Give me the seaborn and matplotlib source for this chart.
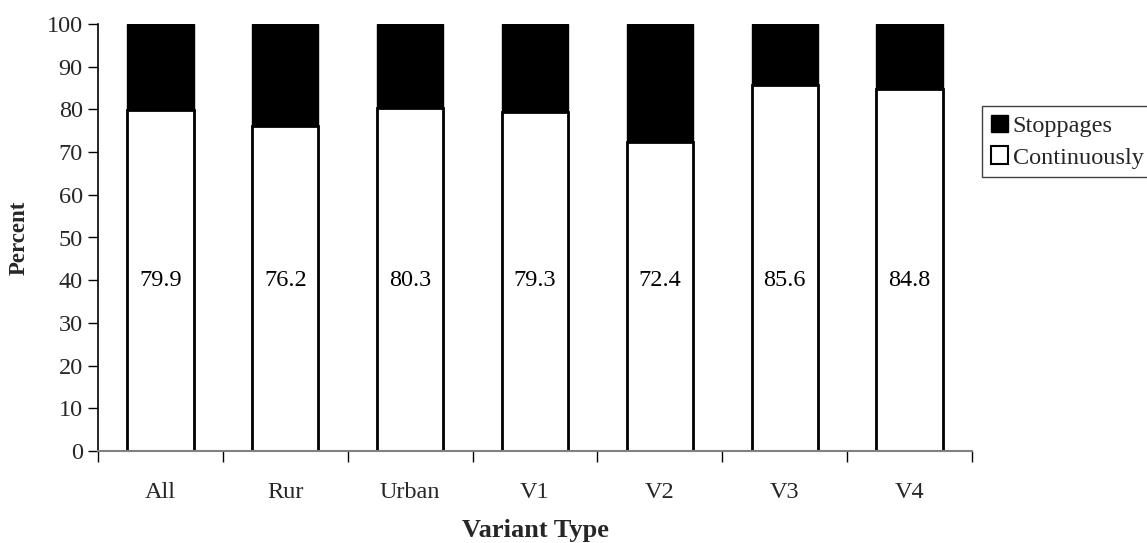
import matplotlib
matplotlib.use("Agg")
import matplotlib.pyplot as plt
import seaborn as sns
import numpy as np
from matplotlib.patches import Patch
from matplotlib.ticker import FixedLocator

categories = ["All", "Rur", "Urban", "V1", "V2", "V3", "V4"]
continuously = [79.9, 76.2, 80.3, 79.3, 72.4, 85.6, 84.8]
stoppages = [round(100 - v, 1) for v in continuously]
totals = [c + s for c, s in zip(continuously, stoppages)]
y_ticks = list(range(0, 101, 10))

sns.set_theme(style="white")
plt.rcParams['font.family'] = ['Liberation Serif', 'DejaVu Serif']

fig = plt.figure(figsize=(11.47, 5.43), dpi=100)
ax = fig.add_axes([98/1147, 1-451/543, (972-98)/1147, (451-24)/543])

sns.barplot(x=categories, y=totals, color="black", saturation=1, width=0.53,
            edgecolor="black", linewidth=1, ax=ax)
sns.barplot(x=categories, y=continuously, color="white", saturation=1, width=0.53,
            edgecolor="black", linewidth=2, ax=ax)

for i, v in enumerate(continuously):
    ax.text(i, 40, f"{v:.1f}", ha="center", va="center", fontsize=17.5, color="black")

ax.set_xlim(-0.5, len(categories) - 0.5)
ax.set_ylim(0, 100)
ax.set_yticks(y_ticks)
ax.tick_params(axis="y", which="major", direction="out", length=7, width=1,
               color="black", labelsize=17.5, pad=4, left=True)
ax.xaxis.set_minor_locator(FixedLocator(np.arange(-0.5, len(categories), 1.0)))
ax.tick_params(axis="x", which="major", length=0, labelsize=17.5, pad=22)
ax.tick_params(axis="x", which="minor", direction="out", length=8, width=1,
               color="black", bottom=True)

for s in ["top", "right"]:
    ax.spines[s].set_visible(False)
ax.spines["left"].set_color("black")
ax.spines["left"].set_linewidth(1.2)
ax.spines["bottom"].set_color("#808080")
ax.spines["bottom"].set_linewidth(1.5)

ax.set_ylabel("Percent", fontsize=16.5, fontweight="bold", labelpad=12)
ax.set_xlabel("Variant Type", fontsize=19, fontweight="bold", labelpad=12)
ax.grid(False)

handles = [Patch(facecolor="black", edgecolor="black", label="Stoppages"),
           Patch(facecolor="white", edgecolor="black", linewidth=1.5, label="Continuously")]
leg = fig.legend(handles=handles, loc="upper left", bbox_to_anchor=(982/1147, 1-106/543),
                 fontsize=17.5, frameon=True, fancybox=False, framealpha=1,
                 edgecolor="#404040", handlelength=0.72, handleheight=0.72,
                 handletextpad=0.2, borderpad=0.35, labelspacing=0.4, borderaxespad=0)
leg.get_frame().set_linewidth(1)

fig.savefig("out.png", dpi=100)
